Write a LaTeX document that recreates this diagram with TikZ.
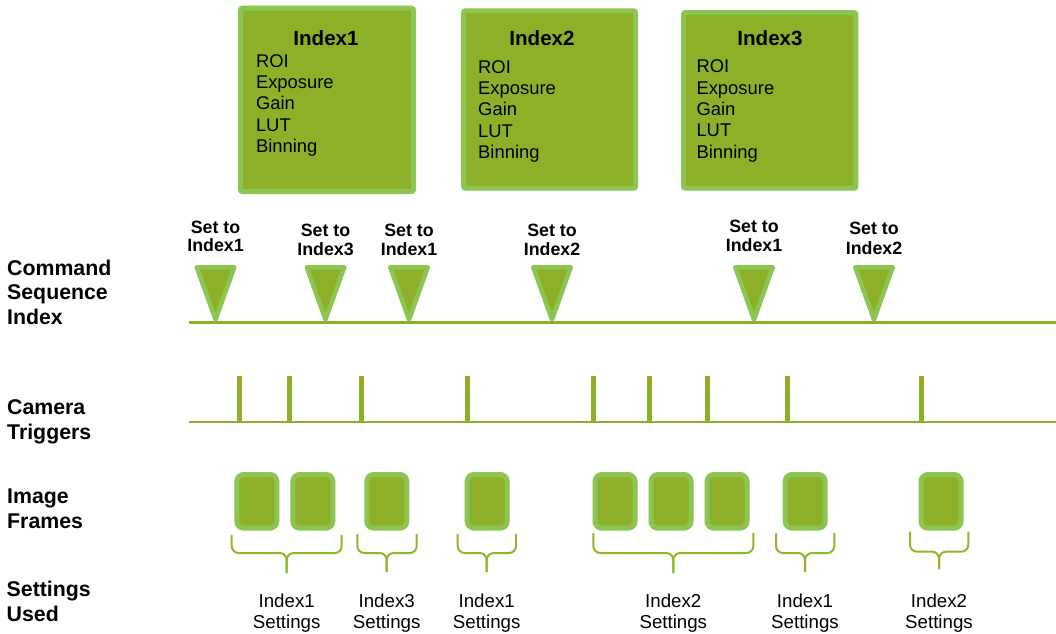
\documentclass[tikz,border=0pt]{standalone}
\usepackage{fontspec}
\setmainfont{Liberation Sans}
\definecolor{gfill}{RGB}{141,176,41}
\definecolor{gedge}{RGB}{140,197,82}
\definecolor{gbrace}{RGB}{141,184,41}
\begin{document}
\begin{tikzpicture}[x=1pt,y=-1pt,
  boxst/.style={fill=gfill,draw=gedge,line width=5pt,rounded corners=2pt},
  trist/.style={fill=gfill,draw=gedge,line width=4.5pt,line join=round},
  framest/.style={fill=gfill,draw=gedge,line width=5pt,rounded corners=7pt},
  bracest/.style={draw=gbrace,line width=2pt,rounded corners=7pt},
  axisst/.style={draw=gfill,line width=2.6pt},
  tickst/.style={draw=gfill,line width=4.7pt},
  ttl/.style={anchor=base,inner sep=0pt,font=\fontsize{20.6}{24}\selectfont\bfseries},
  item/.style={anchor=base west,inner sep=0pt,font=\fontsize{18.4}{21}\selectfont},
  setl/.style={anchor=base,inner sep=0pt,font=\fontsize{17.8}{20}\selectfont\bfseries},
  rowl/.style={anchor=base west,inner sep=0pt,font=\fontsize{21.3}{24}\selectfont\bfseries},
  usedl/.style={anchor=base,inner sep=0pt,font=\fontsize{18.7}{21}\selectfont}]
\useasboundingbox (0,0) rectangle (1056,633);

% settings boxes
\draw[boxst] (240.5,8.2) rectangle (413.5,191.5);
\draw[boxst] (463.5,10.8) rectangle (635.5,188.2);
\draw[boxst] (683.5,12.5) rectangle (855.8,188.2);
\node[ttl] (t1) at (326,45) {Index1};
\node[ttl] (t2) at (542,45) {Index2};
\node[ttl] (t3) at (770,45) {Index3};
\foreach \bx/\bid/\by in {255.8/1/67, 478/2/73, 696.3/3/72.7} {
  \foreach \t [count=\i] in {ROI,Exposure,Gain,LUT,Binning} {
    \node[item] (b\bid-\i) at (\bx,{\by+21.4*(\i-1)}) {\t};
  }
}

% row labels
\node[rowl] (r1a) at (7,275) {Command};
\node[rowl] (r1b) at (7,299.5) {Sequence};
\node[rowl] (r1c) at (7,324) {Index};
\node[rowl] (r2a) at (7,414.5) {Camera};
\node[rowl] (r2b) at (7,439.5) {Triggers};
\node[rowl] (r3a) at (7,503.5) {Image};
\node[rowl] (r3b) at (7,528.5) {Frames};
\node[rowl] (r4a) at (6.5,596) {Settings};
\node[rowl] (r4b) at (6.5,621) {Used};

% command sequence line and markers
\coordinate (cl0) at (189,322.5);
\coordinate (cl1) at (1056,322.5);
\draw[axisst] (cl0) -- (cl1);
\foreach \c/\n/\ya/\yb/\k in {215.5/1/233/251.5/1, 325.5/3/236.5/255/2, 409/1/236.5/255/3,
                             552/2/236.7/255/4, 754/1/232/251.7/5, 874/2/234.5/254/6} {
  \draw[trist] (\c-18.75,267.25) -- (\c+18.75,267.25) -- (\c,319.5) -- cycle;
  \node[setl] (s\k a) at (\c,\ya) {Set to};
  \node[setl] (s\k b) at (\c,\yb) {Index\n};
}

% camera triggers
\coordinate (tl0) at (189,422);
\coordinate (tl1) at (1056,422);
\draw[axisst] (tl0) -- (tl1);
\foreach \x [count=\k] in {239.3,289.3,361.3,467.3,593.3,649.3,707.3,787.3,921.3} {
  \coordinate (tk\k) at (\x,376);
  \draw[tickst] (tk\k) -- (\x,422);
}

% image frames
\foreach \x in {256.8,312.8,386.8,487.2,615,671,727,805.2,941} {
  \draw[framest] (\x-20,474.5) rectangle (\x+20,528.2);
}

% braces and settings labels
\foreach \xa/\xb/\xc/\yt/\yh/\yp/\lab [count=\k] in
  {231.7/341.7/286.7/535/553/573/1, 357.3/416.7/386.7/534/553/572/3,
   457.7/516/486.7/534/553/572/1, 593.3/753.3/673.3/533/553/573/2,
   776/834.3/805/533/553/572/1, 910/968.3/939/531.7/551.7/569/2} {
  \draw[bracest] (\xa,\yt) -- (\xa,\yh) -- (\xc,\yh) -- (\xc,\yp);
  \draw[bracest] (\xb,\yt) -- (\xb,\yh) -- (\xc,\yh) -- (\xc,\yp);
  \node[usedl] (u\k a) at (\xc,607) {Index\lab};
  \node[usedl] (u\k b) at (\xc,628) {Settings};
}
\end{tikzpicture}
\end{document}
